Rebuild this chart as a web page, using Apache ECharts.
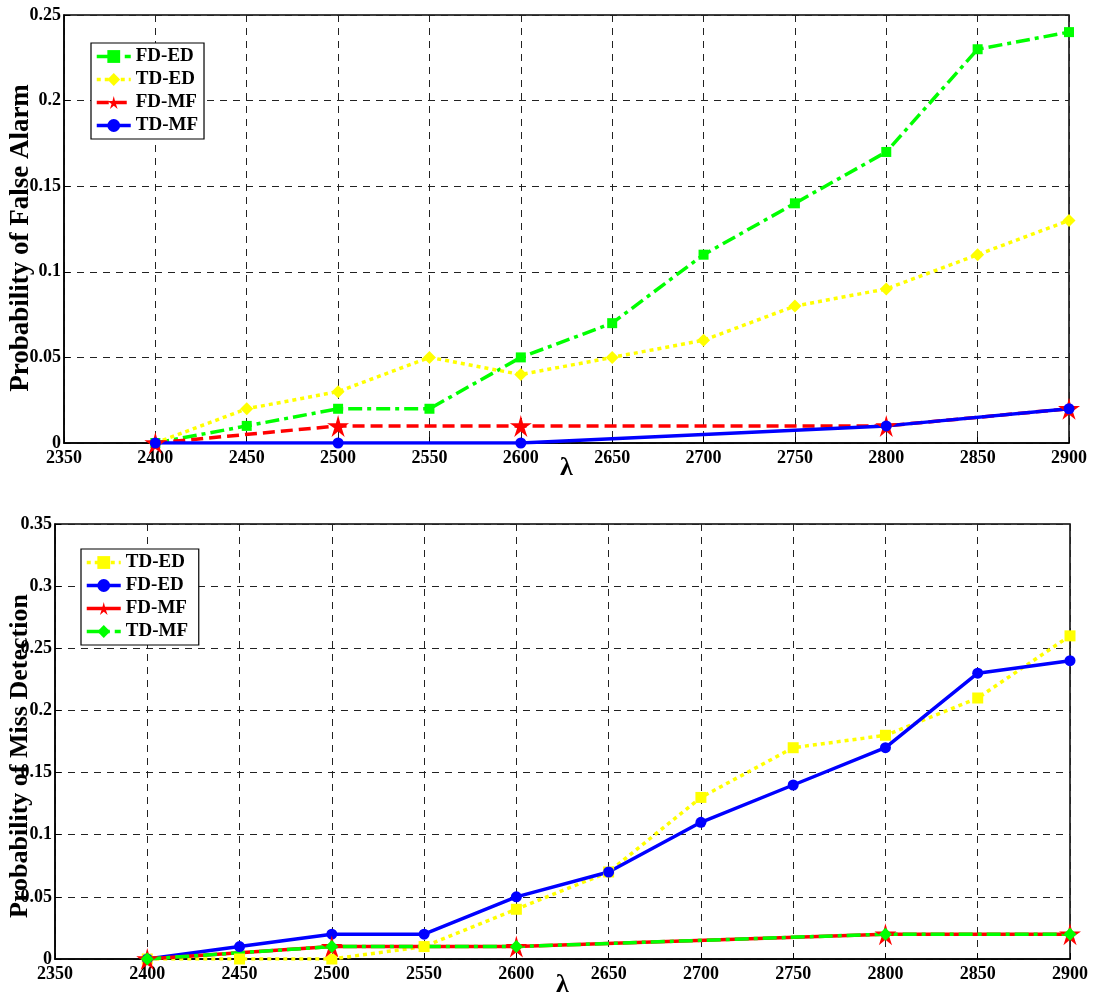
<!DOCTYPE html>
<html><head><meta charset="utf-8">
<script src="https://cdn.jsdelivr.net/npm/echarts@6/dist/echarts.min.js"></script>
<style>html,body{margin:0;padding:0;background:#fff}#c{width:1093px;height:998px}</style>
</head><body><div id="c"></div>
<script>
const lambdaFull = [2400,2450,2500,2550,2600,2650,2700,2750,2800,2850,2900];
const lambdaMF = [2400,2500,2600,2800,2900];
// top: probability of false alarm
const faFDED = [0,0.01,0.02,0.02,0.05,0.07,0.11,0.14,0.17,0.23,0.24];
const faTDED = [0,0.02,0.03,0.05,0.04,0.05,0.06,0.08,0.09,0.11,0.13];
const faFDMF = [0,0.01,0.01,0.01,0.02];
const faTDMF = [0,0,0,0.01,0.02];
// bottom: probability of miss detection
const mdTDED = [0,0,0,0.01,0.04,0.07,0.13,0.17,0.18,0.21,0.26];
const mdFDED = [0,0.01,0.02,0.02,0.05,0.07,0.11,0.14,0.17,0.23,0.24];
const mdFDMF = [0,0.01,0.01,0.02,0.02];
const mdTDMF = [0,0.01,0.01,0.02,0.02];
const yNameTop = 'Probability of False Alarm';
const yNameBottom = 'Probability of Miss Detection';

const pairs = (xs, ys) => xs.map((x,i)=>[x, ys[i]]);
const STAR = 'path://M50,0 L60,38 L100,38 L67,61 L80,100 L50,76 L20,100 L33,61 L0,38 L40,38 Z';
const FONT = 'Liberation Serif';
const GREEN='#00ff00', YELLOW='#ffff00', RED='#ff0000', BLUE='#0000ff';

function mkSeries(name, xi, yi, data, color, symbol, size, dash){
  return {name, type:'line', xAxisIndex:xi, yAxisIndex:yi, data, symbol, symbolSize:size,
    showAllSymbol:true, color,
    lineStyle:{color, width:3.5, type: dash},
    itemStyle:{color, borderWidth:0}, emphasis:{disabled:true}, animation:false};
}
function xAx(gi, gap){
  return {type:'value', gridIndex:gi, min:2350, max:2900, interval:50,
    name:'λ', nameLocation:'middle', nameGap:gap, nameMoveOverlap:false,
    nameTextStyle:{fontFamily:FONT, fontWeight:'bold', fontSize:26, color:'#000'},
    axisLine:{onZero:false, lineStyle:{color:'#000', width:1.5}},
    axisTick:{inside:true, length:6, lineStyle:{color:'#000'}},
    axisLabel:{fontFamily:FONT, fontWeight:'bold', fontSize:18, color:'#000', margin:6,
      formatter: v => String(v)},
    splitLine:{show:true, lineStyle:{color:'#222', type:[7,6], width:1}}};
}
function yAx(gi, max){
  return {type:'value', gridIndex:gi, min:0, max, interval:0.05,
    axisLine:{lineStyle:{color:'#000', width:1.5}},
    axisTick:{inside:true, length:6, lineStyle:{color:'#000'}},
    axisLabel:{fontFamily:FONT, fontWeight:'bold', fontSize:18, color:'#000', margin:3,
      formatter: v => String(v)},
    splitLine:{show:true, lineStyle:{color:'#222', type:[7,6], width:1}}};
}
const legendBase = {orient:'vertical', backgroundColor:'#fff', borderColor:'#000', borderWidth:1.2,
  padding:[4,6,4,4], itemGap:4, itemWidth:34, itemHeight:16,
  lineStyle:{width:3.5},
  textStyle:{fontFamily:FONT, fontWeight:'bold', fontSize:19, color:'#000'}};
function yTitle(text, x, y, size){
  return {type:'text', x, y, rotation:Math.PI/2, z:-1,
    style:{text, fontFamily:FONT, fontWeight:'bold', fontSize:size, fill:'#000',
      textAlign:'center', textVerticalAlign:'middle'}};
}

const chart = echarts.init(document.getElementById('c'), null, {renderer:'canvas'});
chart.setOption({
  backgroundColor:'#fff',
  animation:false,
  grid:[
    {left:64, top:15, width:1005, height:428, show:true, borderColor:'#000', borderWidth:1.5,
     backgroundColor:'transparent', containLabel:false, outerBoundsMode:'none'},
    {left:55, top:524, width:1015, height:435, show:true, borderColor:'#000', borderWidth:1.5,
     backgroundColor:'transparent', containLabel:false, outerBoundsMode:'none'}
  ],
  xAxis:[xAx(0,12), xAx(1,13)],
  yAxis:[yAx(0,0.25), yAx(1,0.35)],
  graphic:[yTitle(yNameTop,21,238,27), yTitle(yNameBottom,20,756,26)],
  legend:[
    Object.assign({left:91, top:43, data:['FD-ED','TD-ED','FD-MF','TD-MF']}, legendBase),
    Object.assign({left:81, top:549, data:['TD-ED ','FD-ED ','FD-MF ','TD-MF ']}, legendBase)
  ],
  series:[
    mkSeries('FD-ED',0,0,pairs(lambdaFull,faFDED),GREEN,'rect',10,[14,5,4,5]),
    mkSeries('TD-ED',0,0,pairs(lambdaFull,faTDED),YELLOW,'diamond',13,[4,4]),
    mkSeries('FD-MF',0,0,pairs(lambdaMF,faFDMF),RED,STAR,22,[12,6]),
    mkSeries('TD-MF',0,0,pairs(lambdaMF,faTDMF),BLUE,'circle',11,'solid'),
    mkSeries('TD-ED ',1,1,pairs(lambdaFull,mdTDED),YELLOW,'rect',11,[4,4]),
    mkSeries('FD-ED ',1,1,pairs(lambdaFull,mdFDED),BLUE,'circle',11,'solid'),
    mkSeries('FD-MF ',1,1,pairs(lambdaMF,mdFDMF),RED,STAR,22,'solid'),
    mkSeries('TD-MF ',1,1,pairs(lambdaMF,mdTDMF),GREEN,'diamond',13,[14,5,4,5])
  ]
});
</script></body></html>
